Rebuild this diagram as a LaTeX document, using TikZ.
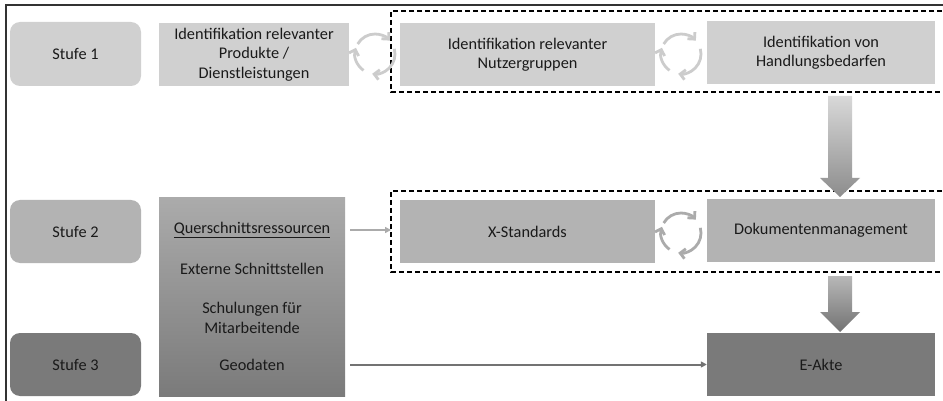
\documentclass[tikz,border=0pt]{standalone}
\usepackage{fontspec}
\setmainfont{Carlito}
\usetikzlibrary{calc,arrows.meta}
\definecolor{txt}{HTML}{1A1A1A}
\definecolor{lg}{HTML}{D0D0D0}
\definecolor{mg}{HTML}{B3B3B3}
\definecolor{dg}{HTML}{7A7A7A}
\tikzset{
  box/.style={fill=#1, text=txt, align=center, inner sep=2pt, font=\fontsize{16.3}{19.5}\selectfont},
  stufe/.style={box=#1, rounded corners=10pt},
  sz/.style 2 args={minimum width=#1, minimum height=#2},
  lbl/.style={text=txt, align=center, inner sep=1pt, font=\fontsize{16.3}{19.5}\selectfont},
  dashbox/.style={draw=black, line width=1.1pt, dash pattern=on 5pt off 3pt},
  cyc/.style={line width=2.8pt, -{Straight Barb[length=5pt,width=10pt]}},
  thin/.style={line width=2pt, -{Triangle[length=6pt,width=6pt]}},
}
\begin{document}
\begin{tikzpicture}[x=1pt,y=-1pt]
\useasboundingbox (0,0) rectangle (943,401);
\fill[white] (0,0) rectangle (943,401);
% frame
\draw[line width=1.4pt, color=black!80] (6,401) -- (6,5) -- (943,5);
% dashed boxes
\draw[dashbox] (950,11) -- (391,11) -- (391,92) -- (950,92);
\draw[dashbox] (950,191) -- (391,191) -- (391,272) -- (950,272);
% row 1
\node[stufe=lg, sz={131pt}{64pt}] (s1) at (75.5,54) {Stufe 1};
\node[box=lg, sz={190pt}{63pt}] (p1) at (254,54.5) {Identifikation relevanter\\Produkte /\\Dienstleistungen};
\node[box=lg, sz={255pt}{63pt}] (n1) at (527.5,54.5) {Identifikation relevanter\\Nutzergruppen};
\node[box=lg, sz={228pt}{63pt}] (h1) at (821,52.5) {Identifikation von\\Handlungsbedarfen};
% row 2
\node[stufe=mg, sz={131pt}{63pt}] (s2) at (75.5,231.5) {Stufe 2};
\node[box=mg, sz={255pt}{63pt}] (xs) at (527.5,231.5) {X-Standards};
\node[box=mg, sz={228pt}{63pt}] (dm) at (821,230.5) {Dokumentenmanagement};
% row 3
\node[stufe=dg, sz={131pt}{63pt}] (s3) at (75.5,364.5) {Stufe 3};
\node[box=dg, sz={228pt}{63pt}] (ea) at (821,364.5) {E-Akte};
% cross-section box
\shade[top color=black!33, bottom color=black!52] (159,198) rectangle (345,396);
\coordinate (qe) at (345,297);
\node[lbl] (qt) at (252,230) {\underline{Querschnittsressourcen}};
\node[lbl] (es) at (252,269) {Externe Schnittstellen};
\node[lbl] (sm) at (252,318) {Schulungen für\\Mitarbeitende};
\node[lbl] (geo) at (252,365) {Geodaten};
\coordinate (db2w) at (391,230);
\draw[thin, color=black!33] ([xshift=5pt]qe |- qt) -- (db2w);
\draw[thin, color=black!55] ([xshift=5pt]qe |- ea.west) -- (ea.west);
% cycle icons
\foreach \cx/\cy/\cc in {375/54/black!20, 681/54/black!20, 681/233/black!33}{
  \begin{scope}[shift={(\cx,\cy)}, y=1pt]
    \draw[cyc, color=\cc] (150:20pt) arc[start angle=150, end angle=42, radius=20pt];
    \draw[cyc, color=\cc] (15:20pt) arc[start angle=15, end angle=-98, radius=20pt];
    \draw[cyc, color=\cc] (-125:20pt) arc[start angle=-125, end angle=-198, radius=20pt];
  \end{scope}
}
% block arrows
\shade[top color=black!15, bottom color=black!45]
  (828,96) -- (852,96) -- (852,178) -- (860,178) -- (840,197) -- (820,178) -- (828,178) -- cycle;
\shade[top color=black!28, bottom color=black!55]
  (828,276) -- (852,276) -- (852,312) -- (860,312) -- (840,332) -- (820,312) -- (828,312) -- cycle;
\end{tikzpicture}
\end{document}
